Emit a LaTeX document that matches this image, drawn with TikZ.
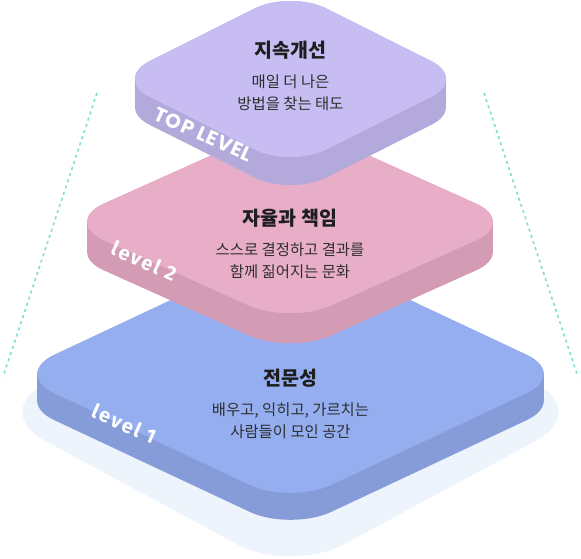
\documentclass[tikz,border=0pt]{standalone}
\usepackage{fontspec}
\newfontfamily\kr{Noto Sans CJK KR}
\newfontfamily\fira{Fira Sans}
\newfontfamily\pop{Poppins}
\definecolor{purTop}{HTML}{C7BDF3}
\definecolor{purSide}{HTML}{B3A9DB}
\definecolor{pinkTop}{HTML}{E8AEC8}
\definecolor{pinkSide}{HTML}{D49CB4}
\definecolor{bluTop}{HTML}{94AEF0}
\definecolor{bluSide}{HTML}{869CD9}
\definecolor{shadowC}{HTML}{EEF4FC}
\definecolor{tealC}{HTML}{7EDFD7}
\definecolor{titleC}{HTML}{1E1E1E}
\definecolor{bodyC}{HTML}{2E2E2E}
\newcommand\dpath[4]{({#1+#3/2},{#2-#4/2}) -- ({#1+#3},{#2}) -- ({#1},{#2+#4}) -- ({#1-#3},{#2}) -- ({#1},{#2-#4}) -- cycle}
\newcommand\layer[8]{%
  \foreach \t in {0,...,#5}{\fill[#8,rounded corners=#6pt] \dpath{#1}{#2+\t}{#3}{#4};}
  \fill[#7,rounded corners=#6pt] \dpath{#1}{#2}{#3}{#4};}
\tikzset{
  titletext/.style={text=titleC,font=\kr\bfseries\fontsize{19.5}{22}\selectfont,inner sep=0pt},
  bodytext/.style={text=bodyC,font=\kr\fontsize{15.4}{22}\selectfont,align=center,inner sep=0pt},
  lvltext/.style={text=white,inner sep=0pt,anchor=base,rotate=-24},
  guide/.style={draw=tealC,line width=1.6pt,dash pattern=on 3pt off 3.5pt}
}
\begin{document}
\begin{tikzpicture}[x=1pt,y=-1pt]
\useasboundingbox (0,0) rectangle (581,558);
% shadow
\fill[shadowC,rounded corners=60pt] \dpath{290.5}{412}{299}{161};
% layers
\layer{290.5}{374}{277}{130}{27}{45}{bluTop}{bluSide}
\node[lvltext,font=\fira\bfseries\fontsize{20}{20}\selectfont\addfontfeature{LetterSpace=10}] (lv1) at (121.2,430.5) {level 1};
\layer{290}{222}{227}{102}{30}{45}{pinkTop}{pinkSide}
\node[lvltext,font=\fira\bfseries\fontsize{20}{20}\selectfont\addfontfeature{LetterSpace=10}] (lv2) at (141.1,267.9) {level 2};
\layer{290.5}{79}{176.5}{88.5}{28}{40}{purTop}{purSide}
\node[lvltext,font=\pop\bfseries\fontsize{20}{20}\selectfont\addfontfeature{LetterSpace=4}] (lv3) at (200.5,140.6) {TOP LEVEL};
% texts
\node[titletext] (t3) at (290.5,50) {지속개선};
\node[bodytext] (b3) at (290.5,92.5) {매일 더 나은\\방법을 찾는 태도};
\node[titletext] (t2) at (290,218) {자율과 책임};
\node[bodytext] (b2) at (290,261) {스스로 결정하고 결과를\\함께 짊어지는 문화};
\node[titletext] (t1) at (290.5,378) {전문성};
\node[bodytext] (b1) at (290.5,421) {배우고, 익히고, 가르치는\\사람들이 모인 공간};
% guides
\coordinate (gl1) at (97,93);
\coordinate (gl2) at (3,377);
\coordinate (gr1) at (484,93);
\coordinate (gr2) at (578,377);
\draw[guide] (gl1) -- (gl2);
\draw[guide] (gr1) -- (gr2);
\end{tikzpicture}
\end{document}
